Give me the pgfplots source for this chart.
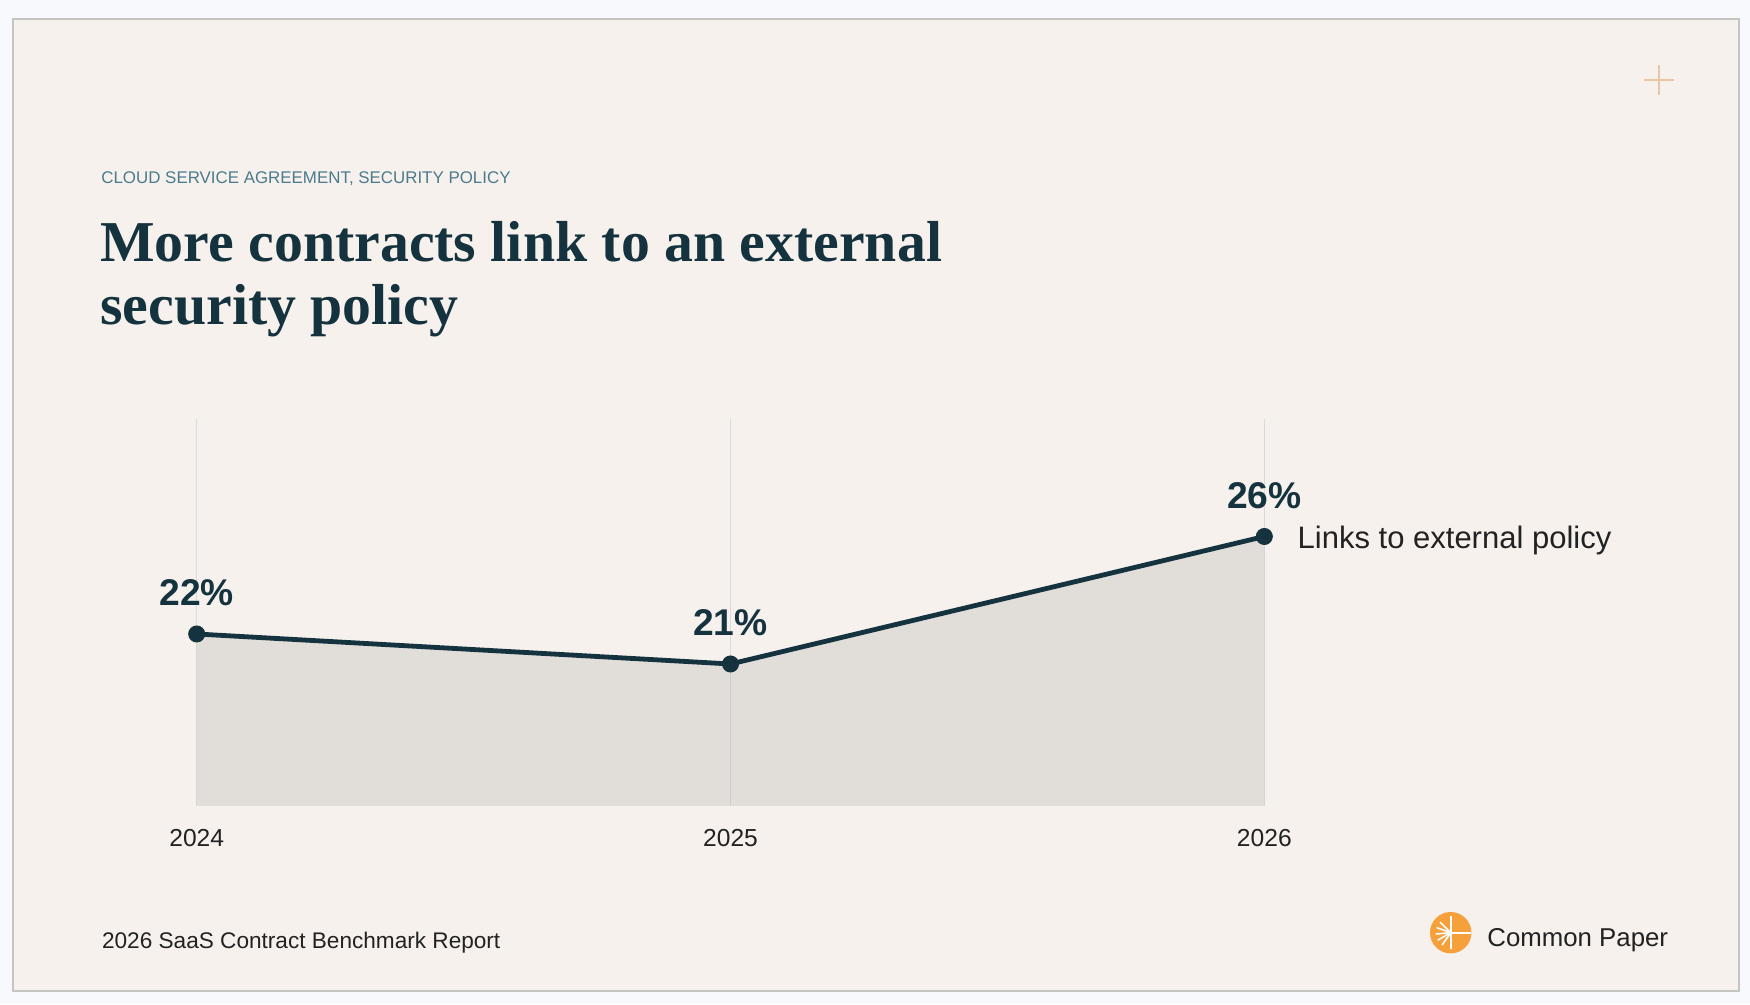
\documentclass[border=0pt]{standalone}
\usepackage{fontspec}
\setmainfont{Liberation Sans}
\newfontfamily\titlefont{Liberation Serif}
\usepackage{pgfplots}
\pgfplotsset{compat=1.18}
\definecolor{outerbg}{HTML}{F8F9FD}
\definecolor{panel}{HTML}{F6F1EC}
\definecolor{border}{HTML}{C4C4C0}
\definecolor{areacol}{HTML}{B8B9B6}
\definecolor{linecol}{HTML}{14333E}
\definecolor{subcol}{HTML}{4B7B8C}
\definecolor{textcol}{HTML}{222222}
\definecolor{gridcol}{HTML}{D5DCDB}
\definecolor{pluscol}{HTML}{E8C5A5}
\definecolor{orange}{HTML}{F5A03B}
\begin{document}
\begin{tikzpicture}
\begin{scope}[x=0.5bp,y=0.5bp]
\useasboundingbox (0,0) rectangle (1750,1004);
\fill[outerbg] (0,0) rectangle (1750,1004);
\filldraw[fill=panel, draw=border, line width=1bp] (13,985) rectangle (1739,13);
% plus sign
\draw[pluscol, line width=0.6bp] (1644,924) -- (1674,924) (1659,909) -- (1659,939);
% subtitle and title
\node[anchor=base west, inner sep=0pt, text=subcol, font=\fontsize{8.45bp}{10bp}\selectfont] at (101,820.7) {CLOUD SERVICE AGREEMENT, SECURITY POLICY};
\node[anchor=base west, inner sep=0pt, text=linecol, font=\titlefont\bfseries\fontsize{28.9bp}{31.5bp}\selectfont] at (100,742.3) {More contracts link to an external};
\node[anchor=base west, inner sep=0pt, text=linecol, font=\titlefont\bfseries\fontsize{28.9bp}{31.5bp}\selectfont] at (100,679) {security policy};
% footer
\node[anchor=base west, inner sep=0pt, text=textcol, font=\fontsize{11.3bp}{13bp}\selectfont] at (101.7,55.7) {2026 SaaS Contract Benchmark Report};
\node[anchor=base west, inner sep=0pt, text=textcol, font=\fontsize{12.9bp}{15bp}\selectfont] at (1487,58) {Common Paper};
% logo
\fill[orange] (1450.7,71.3) circle (20.7);
\draw[white, line width=0.8bp] (1450.7,71.3) -- (1471.4,71.3) (1450.7,88) -- (1450.7,55);
\foreach \a in {135,160,185,210,235} {\draw[white, line width=0.8bp] (1450.7,71.3) -- ++(\a:15);}
\end{scope}
\begin{axis}[
  at={(98.35bp,99bp)}, anchor=south west,
  width=533.8bp, height=193.5bp, scale only axis,
  xmin=0, xmax=2, ymin=15.12, ymax=30.6,
  clip=false,
  axis x line*=bottom, axis y line=none,
  x axis line style={draw=none},
  xtick={0,1,2}, xticklabels={2024,2025,2026},
  major tick length=0pt,
  xticklabel style={font=\fontsize{12.3bp}{14bp}\selectfont, text=textcol, anchor=base, yshift=-20.5bp, inner sep=0pt},
  xmajorgrids, grid style={draw=gridcol, line width=0.6bp},
]
\addplot[fill=areacol, fill opacity=0.33, draw=none] coordinates {(0,15.12) (0,22.0) (1,20.8) (2,25.9) (2,15.12)} -- cycle;
\addplot[linecol, line width=2.4bp, mark=*, mark size=4bp, mark options={fill=linecol, draw=linecol, line width=0.5bp},
  point meta=explicit symbolic, nodes near coords,
  every node near coord/.append style={anchor=base, yshift=14bp, inner sep=0pt, text=linecol, font=\bfseries\fontsize{18.6bp}{20bp}\selectfont}]
  coordinates {(0,22.0) [22\%] (1,20.8) [21\%] (2,25.9) [26\%]};
\node[anchor=base west, inner sep=0pt, text=textcol, font=\fontsize{15.5bp}{18bp}\selectfont, xshift=16.5bp, yshift=-6.2bp] at (axis cs:2,25.9) {Links to external policy};
\end{axis}
\end{tikzpicture}
\end{document}
